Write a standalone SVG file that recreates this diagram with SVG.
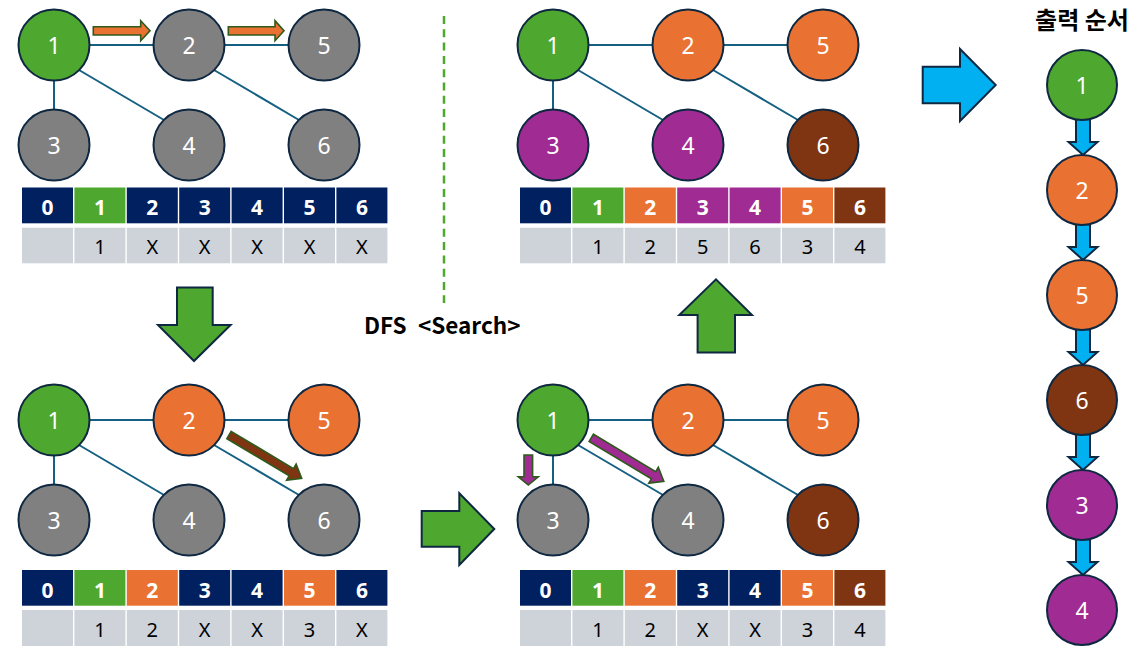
<svg xmlns="http://www.w3.org/2000/svg" width="1143" height="667" viewBox="0 0 1143 667">
<style>
  .bg{fill:#ffffff}
  circle{stroke:#0E2841;stroke-width:2}
  .g{fill:#4EA72E}.o{fill:#E97132}.x{fill:#808080}.p{fill:#A02B93}.b{fill:#7F3511}.n{fill:#002060}.r{fill:#CED3DA}
  .edge{stroke:#156082;stroke-width:2;fill:none}
  .lbl{font-family:"Noto Sans","Open Sans",sans-serif;font-size:23px;fill:#ffffff;text-anchor:middle}
  .hd{font-family:"Noto Sans","Open Sans",sans-serif;font-size:21px;font-weight:bold;fill:#ffffff;text-anchor:middle}
  .cv{font-family:"Noto Sans","Open Sans",sans-serif;font-size:20px;fill:#000000;text-anchor:middle}
  .sarrow{stroke:#2E5A1C;stroke-width:1.6}
  .big{stroke:#0E2841;stroke-width:2}
  .title{font-family:"Noto Sans CJK KR","Noto Sans",sans-serif;font-weight:bold;fill:#000000}
</style>
<defs>
  <path id="diag" d="M0,-4.2 L72.6,-4.2 L72.6,-9.3 L84.6,0 L72.6,9.3 L72.6,4.2 L0,4.2 Z"/>
</defs>
<rect class="bg" x="0" y="0" width="1143" height="667"/>

<!-- connectors -->
<g id="connectors">
  <line class="edge" x1="89.5" y1="45" x2="153.5" y2="45"/>
  <line class="edge" x1="224.5" y1="45" x2="288.5" y2="45"/>
  <line class="edge" x1="54" y1="80.5" x2="54" y2="109.5"/>
  <line class="edge" x1="79" y1="70" x2="164" y2="120"/>
  <line class="edge" x1="214" y1="70" x2="299" y2="120"/>
  <line class="edge" x1="89.5" y1="420" x2="153.5" y2="420"/>
  <line class="edge" x1="224.5" y1="420" x2="288.5" y2="420"/>
  <line class="edge" x1="54" y1="455.5" x2="54" y2="484.5"/>
  <line class="edge" x1="79" y1="445" x2="164" y2="495"/>
  <line class="edge" x1="214" y1="445" x2="299" y2="495"/>
  <line class="edge" x1="588.5" y1="45" x2="652.5" y2="45"/>
  <line class="edge" x1="723.5" y1="45" x2="787.5" y2="45"/>
  <line class="edge" x1="553" y1="80.5" x2="553" y2="109.5"/>
  <line class="edge" x1="578" y1="70" x2="663" y2="120"/>
  <line class="edge" x1="713" y1="70" x2="798" y2="120"/>
  <line class="edge" x1="588.5" y1="420" x2="652.5" y2="420"/>
  <line class="edge" x1="723.5" y1="420" x2="787.5" y2="420"/>
  <line class="edge" x1="553" y1="455.5" x2="553" y2="484.5"/>
  <line class="edge" x1="578" y1="445" x2="663" y2="495"/>
  <line class="edge" x1="713" y1="445" x2="798" y2="495"/>
</g>

<!-- top-left panel -->
<g id="tl-n1"><circle class="g" cx="54" cy="45" r="35.5"/><text class="lbl" x="54" y="53.5">1</text></g>
<g id="tl-n2"><circle class="x" cx="189" cy="45" r="35.5"/><text class="lbl" x="189" y="53.5">2</text></g>
<g id="tl-n5"><circle class="x" cx="324" cy="45" r="35.5"/><text class="lbl" x="324" y="53.5">5</text></g>
<g id="tl-n3"><circle class="x" cx="54" cy="145" r="35.5"/><text class="lbl" x="54" y="153.5">3</text></g>
<g id="tl-n4"><circle class="x" cx="189" cy="145" r="35.5"/><text class="lbl" x="189" y="153.5">4</text></g>
<g id="tl-n6"><circle class="x" cx="324" cy="145" r="35.5"/><text class="lbl" x="324" y="153.5">6</text></g>
<g id="tl-arrows">
  <polygon class="sarrow o" points="93.3,26.7 140.7,26.7 140.7,20.7 150,30.8 140.7,40.7 140.7,35 93.3,35"/>
  <polygon class="sarrow o" points="228.3,26.7 275,26.7 275,20.7 284,30.8 275,40.7 275,35 228.3,35"/>
</g>
<g id="tl-table">
  <rect class="n" x="22" y="187.5" width="51" height="35.8"/>
  <rect class="g" x="74.4" y="187.5" width="51" height="35.8"/>
  <rect class="n" x="126.8" y="187.5" width="51" height="35.8"/>
  <rect class="n" x="179.2" y="187.5" width="51" height="35.8"/>
  <rect class="n" x="231.6" y="187.5" width="51" height="35.8"/>
  <rect class="n" x="284" y="187.5" width="51" height="35.8"/>
  <rect class="n" x="336.4" y="187.5" width="51" height="35.8"/>
  <text class="hd" x="47.5" y="215">0</text><text class="hd" x="99.9" y="215">1</text><text class="hd" x="152.3" y="215">2</text><text class="hd" x="204.7" y="215">3</text><text class="hd" x="257.1" y="215">4</text><text class="hd" x="309.5" y="215">5</text><text class="hd" x="361.9" y="215">6</text>
  <rect class="r" x="22" y="227.7" width="51" height="35.6"/>
  <rect class="r" x="74.4" y="227.7" width="51" height="35.6"/>
  <rect class="r" x="126.8" y="227.7" width="51" height="35.6"/>
  <rect class="r" x="179.2" y="227.7" width="51" height="35.6"/>
  <rect class="r" x="231.6" y="227.7" width="51" height="35.6"/>
  <rect class="r" x="284" y="227.7" width="51" height="35.6"/>
  <rect class="r" x="336.4" y="227.7" width="51" height="35.6"/>
  <text class="cv" x="99.9" y="254">1</text><text class="cv" x="152.3" y="254">X</text><text class="cv" x="204.7" y="254">X</text><text class="cv" x="257.1" y="254">X</text><text class="cv" x="309.5" y="254">X</text><text class="cv" x="361.9" y="254">X</text>
</g>

<!-- bottom-left panel -->
<g id="bl-n1"><circle class="g" cx="54" cy="420" r="35.5"/><text class="lbl" x="54" y="428.5">1</text></g>
<g id="bl-n2"><circle class="o" cx="189" cy="420" r="35.5"/><text class="lbl" x="189" y="428.5">2</text></g>
<g id="bl-n5"><circle class="o" cx="324" cy="420" r="35.5"/><text class="lbl" x="324" y="428.5">5</text></g>
<g id="bl-n3"><circle class="x" cx="54" cy="520" r="35.5"/><text class="lbl" x="54" y="528.5">3</text></g>
<g id="bl-n4"><circle class="x" cx="189" cy="520" r="35.5"/><text class="lbl" x="189" y="528.5">4</text></g>
<g id="bl-n6"><circle class="x" cx="324" cy="520" r="35.5"/><text class="lbl" x="324" y="528.5">6</text></g>
<g id="bl-arrows">
  <use href="#diag" class="sarrow b" transform="translate(229,435) rotate(30.8)"/>
</g>
<g id="bl-table">
  <rect class="n" x="22" y="570" width="51" height="35.7"/>
  <rect class="g" x="74.4" y="570" width="51" height="35.7"/>
  <rect class="o" x="126.8" y="570" width="51" height="35.7"/>
  <rect class="n" x="179.2" y="570" width="51" height="35.7"/>
  <rect class="n" x="231.6" y="570" width="51" height="35.7"/>
  <rect class="o" x="284" y="570" width="51" height="35.7"/>
  <rect class="n" x="336.4" y="570" width="51" height="35.7"/>
  <text class="hd" x="47.5" y="597.5">0</text><text class="hd" x="99.9" y="597.5">1</text><text class="hd" x="152.3" y="597.5">2</text><text class="hd" x="204.7" y="597.5">3</text><text class="hd" x="257.1" y="597.5">4</text><text class="hd" x="309.5" y="597.5">5</text><text class="hd" x="361.9" y="597.5">6</text>
  <rect class="r" x="22" y="610" width="51" height="36"/>
  <rect class="r" x="74.4" y="610" width="51" height="36"/>
  <rect class="r" x="126.8" y="610" width="51" height="36"/>
  <rect class="r" x="179.2" y="610" width="51" height="36"/>
  <rect class="r" x="231.6" y="610" width="51" height="36"/>
  <rect class="r" x="284" y="610" width="51" height="36"/>
  <rect class="r" x="336.4" y="610" width="51" height="36"/>
  <text class="cv" x="99.9" y="636.5">1</text><text class="cv" x="152.3" y="636.5">2</text><text class="cv" x="204.7" y="636.5">X</text><text class="cv" x="257.1" y="636.5">X</text><text class="cv" x="309.5" y="636.5">3</text><text class="cv" x="361.9" y="636.5">X</text>
</g>

<!-- top-right panel -->
<g id="tr-n1"><circle class="g" cx="553" cy="45" r="35.5"/><text class="lbl" x="553" y="53.5">1</text></g>
<g id="tr-n2"><circle class="o" cx="688" cy="45" r="35.5"/><text class="lbl" x="688" y="53.5">2</text></g>
<g id="tr-n5"><circle class="o" cx="823" cy="45" r="35.5"/><text class="lbl" x="823" y="53.5">5</text></g>
<g id="tr-n3"><circle class="p" cx="553" cy="145" r="35.5"/><text class="lbl" x="553" y="153.5">3</text></g>
<g id="tr-n4"><circle class="p" cx="688" cy="145" r="35.5"/><text class="lbl" x="688" y="153.5">4</text></g>
<g id="tr-n6"><circle class="b" cx="823" cy="145" r="35.5"/><text class="lbl" x="823" y="153.5">6</text></g>
<g id="tr-table">
  <rect class="n" x="520" y="187.5" width="51" height="35.8"/>
  <rect class="g" x="572.4" y="187.5" width="51" height="35.8"/>
  <rect class="o" x="624.8" y="187.5" width="51" height="35.8"/>
  <rect class="p" x="677.2" y="187.5" width="51" height="35.8"/>
  <rect class="p" x="729.6" y="187.5" width="51" height="35.8"/>
  <rect class="o" x="782" y="187.5" width="51" height="35.8"/>
  <rect class="b" x="834.4" y="187.5" width="51" height="35.8"/>
  <text class="hd" x="545.5" y="215">0</text><text class="hd" x="597.9" y="215">1</text><text class="hd" x="650.3" y="215">2</text><text class="hd" x="702.7" y="215">3</text><text class="hd" x="755.1" y="215">4</text><text class="hd" x="807.5" y="215">5</text><text class="hd" x="859.9" y="215">6</text>
  <rect class="r" x="520" y="227.7" width="51" height="35.6"/>
  <rect class="r" x="572.4" y="227.7" width="51" height="35.6"/>
  <rect class="r" x="624.8" y="227.7" width="51" height="35.6"/>
  <rect class="r" x="677.2" y="227.7" width="51" height="35.6"/>
  <rect class="r" x="729.6" y="227.7" width="51" height="35.6"/>
  <rect class="r" x="782" y="227.7" width="51" height="35.6"/>
  <rect class="r" x="834.4" y="227.7" width="51" height="35.6"/>
  <text class="cv" x="597.9" y="254">1</text><text class="cv" x="650.3" y="254">2</text><text class="cv" x="702.7" y="254">5</text><text class="cv" x="755.1" y="254">6</text><text class="cv" x="807.5" y="254">3</text><text class="cv" x="859.9" y="254">4</text>
</g>

<!-- bottom-right panel -->
<g id="br-n1"><circle class="g" cx="553" cy="420" r="35.5"/><text class="lbl" x="553" y="428.5">1</text></g>
<g id="br-n2"><circle class="o" cx="688" cy="420" r="35.5"/><text class="lbl" x="688" y="428.5">2</text></g>
<g id="br-n5"><circle class="o" cx="823" cy="420" r="35.5"/><text class="lbl" x="823" y="428.5">5</text></g>
<g id="br-n3"><circle class="x" cx="553" cy="520" r="35.5"/><text class="lbl" x="553" y="528.5">3</text></g>
<g id="br-n4"><circle class="x" cx="688" cy="520" r="35.5"/><text class="lbl" x="688" y="528.5">4</text></g>
<g id="br-n6"><circle class="b" cx="823" cy="520" r="35.5"/><text class="lbl" x="823" y="528.5">6</text></g>
<g id="br-arrows">
  <polygon class="sarrow p" points="524,455 532.6,455 532.6,476.7 538.3,476.7 528.3,485 518.3,476.7 524,476.7"/>
  <use href="#diag" class="sarrow p" transform="translate(591.3,437.8) rotate(31)"/>
</g>
<g id="br-table">
  <rect class="n" x="520" y="570" width="51" height="35.7"/>
  <rect class="g" x="572.4" y="570" width="51" height="35.7"/>
  <rect class="o" x="624.8" y="570" width="51" height="35.7"/>
  <rect class="n" x="677.2" y="570" width="51" height="35.7"/>
  <rect class="n" x="729.6" y="570" width="51" height="35.7"/>
  <rect class="o" x="782" y="570" width="51" height="35.7"/>
  <rect class="b" x="834.4" y="570" width="51" height="35.7"/>
  <text class="hd" x="545.5" y="597.5">0</text><text class="hd" x="597.9" y="597.5">1</text><text class="hd" x="650.3" y="597.5">2</text><text class="hd" x="702.7" y="597.5">3</text><text class="hd" x="755.1" y="597.5">4</text><text class="hd" x="807.5" y="597.5">5</text><text class="hd" x="859.9" y="597.5">6</text>
  <rect class="r" x="520" y="610" width="51" height="36"/>
  <rect class="r" x="572.4" y="610" width="51" height="36"/>
  <rect class="r" x="624.8" y="610" width="51" height="36"/>
  <rect class="r" x="677.2" y="610" width="51" height="36"/>
  <rect class="r" x="729.6" y="610" width="51" height="36"/>
  <rect class="r" x="782" y="610" width="51" height="36"/>
  <rect class="r" x="834.4" y="610" width="51" height="36"/>
  <text class="cv" x="597.9" y="636.5">1</text><text class="cv" x="650.3" y="636.5">2</text><text class="cv" x="702.7" y="636.5">X</text><text class="cv" x="755.1" y="636.5">X</text><text class="cv" x="807.5" y="636.5">3</text><text class="cv" x="859.9" y="636.5">4</text>
</g>

<!-- big step arrows -->
<g id="step-arrows">
  <polygon class="big g" points="177,287.5 212.7,287.5 212.7,325 230.6,325 194,361 158,325 177,325"/>
  <polygon class="big g" points="421.7,511 459.3,511 459.3,493.3 494.3,529 459.3,565 459.3,546.7 421.7,546.7"/>
  <polygon class="big g" points="716,279.4 752,315 735,315 735,352.5 697.6,352.5 697.6,315 679.3,315"/>
  <polygon class="big" fill="#00B0F0" points="922.7,66.7 960,66.7 960,49 995.7,85 960,121 960,103.3 922.7,103.3"/>
</g>

<!-- divider and caption -->
<line x1="444" y1="16" x2="444" y2="303" stroke="#4EA72E" stroke-width="2.5" stroke-dasharray="8 5.3"/>
<text class="title" font-size="22.5" y="334"><tspan x="364">DFS</tspan><tspan x="418">&lt;Search&gt;</tspan></text>

<!-- output order column -->
<text class="title" font-size="24" x="1082" y="29" text-anchor="middle">출력 순서</text>
<g id="order-arrows">
  <polygon class="big" stroke-width="1.5" fill="#00B0F0" points="1076,119 1090,119 1090,142 1097.5,142 1083,155 1068.5,142 1076,142"/>
  <polygon class="big" stroke-width="1.5" fill="#00B0F0" points="1076,224 1090,224 1090,247 1097.5,247 1083,260 1068.5,247 1076,247"/>
  <polygon class="big" stroke-width="1.5" fill="#00B0F0" points="1076,329 1090,329 1090,352 1097.5,352 1083,365 1068.5,352 1076,352"/>
  <polygon class="big" stroke-width="1.5" fill="#00B0F0" points="1076,434 1090,434 1090,457 1097.5,457 1083,470 1068.5,457 1076,457"/>
  <polygon class="big" stroke-width="1.5" fill="#00B0F0" points="1076,539 1090,539 1090,562 1097.5,562 1083,575 1068.5,562 1076,562"/>
</g>
<g id="out-1"><circle class="g" cx="1082" cy="85" r="35"/><text class="lbl" x="1082" y="93.5">1</text></g>
<g id="out-2"><circle class="o" cx="1082" cy="190" r="35"/><text class="lbl" x="1082" y="198.5">2</text></g>
<g id="out-5"><circle class="o" cx="1082" cy="295" r="35"/><text class="lbl" x="1082" y="303.5">5</text></g>
<g id="out-6"><circle class="b" cx="1082" cy="400" r="35"/><text class="lbl" x="1082" y="408.5">6</text></g>
<g id="out-3"><circle class="p" cx="1082" cy="505" r="35"/><text class="lbl" x="1082" y="513.5">3</text></g>
<g id="out-4"><circle class="p" cx="1082" cy="610" r="35"/><text class="lbl" x="1082" y="618.5">4</text></g>
</svg>
